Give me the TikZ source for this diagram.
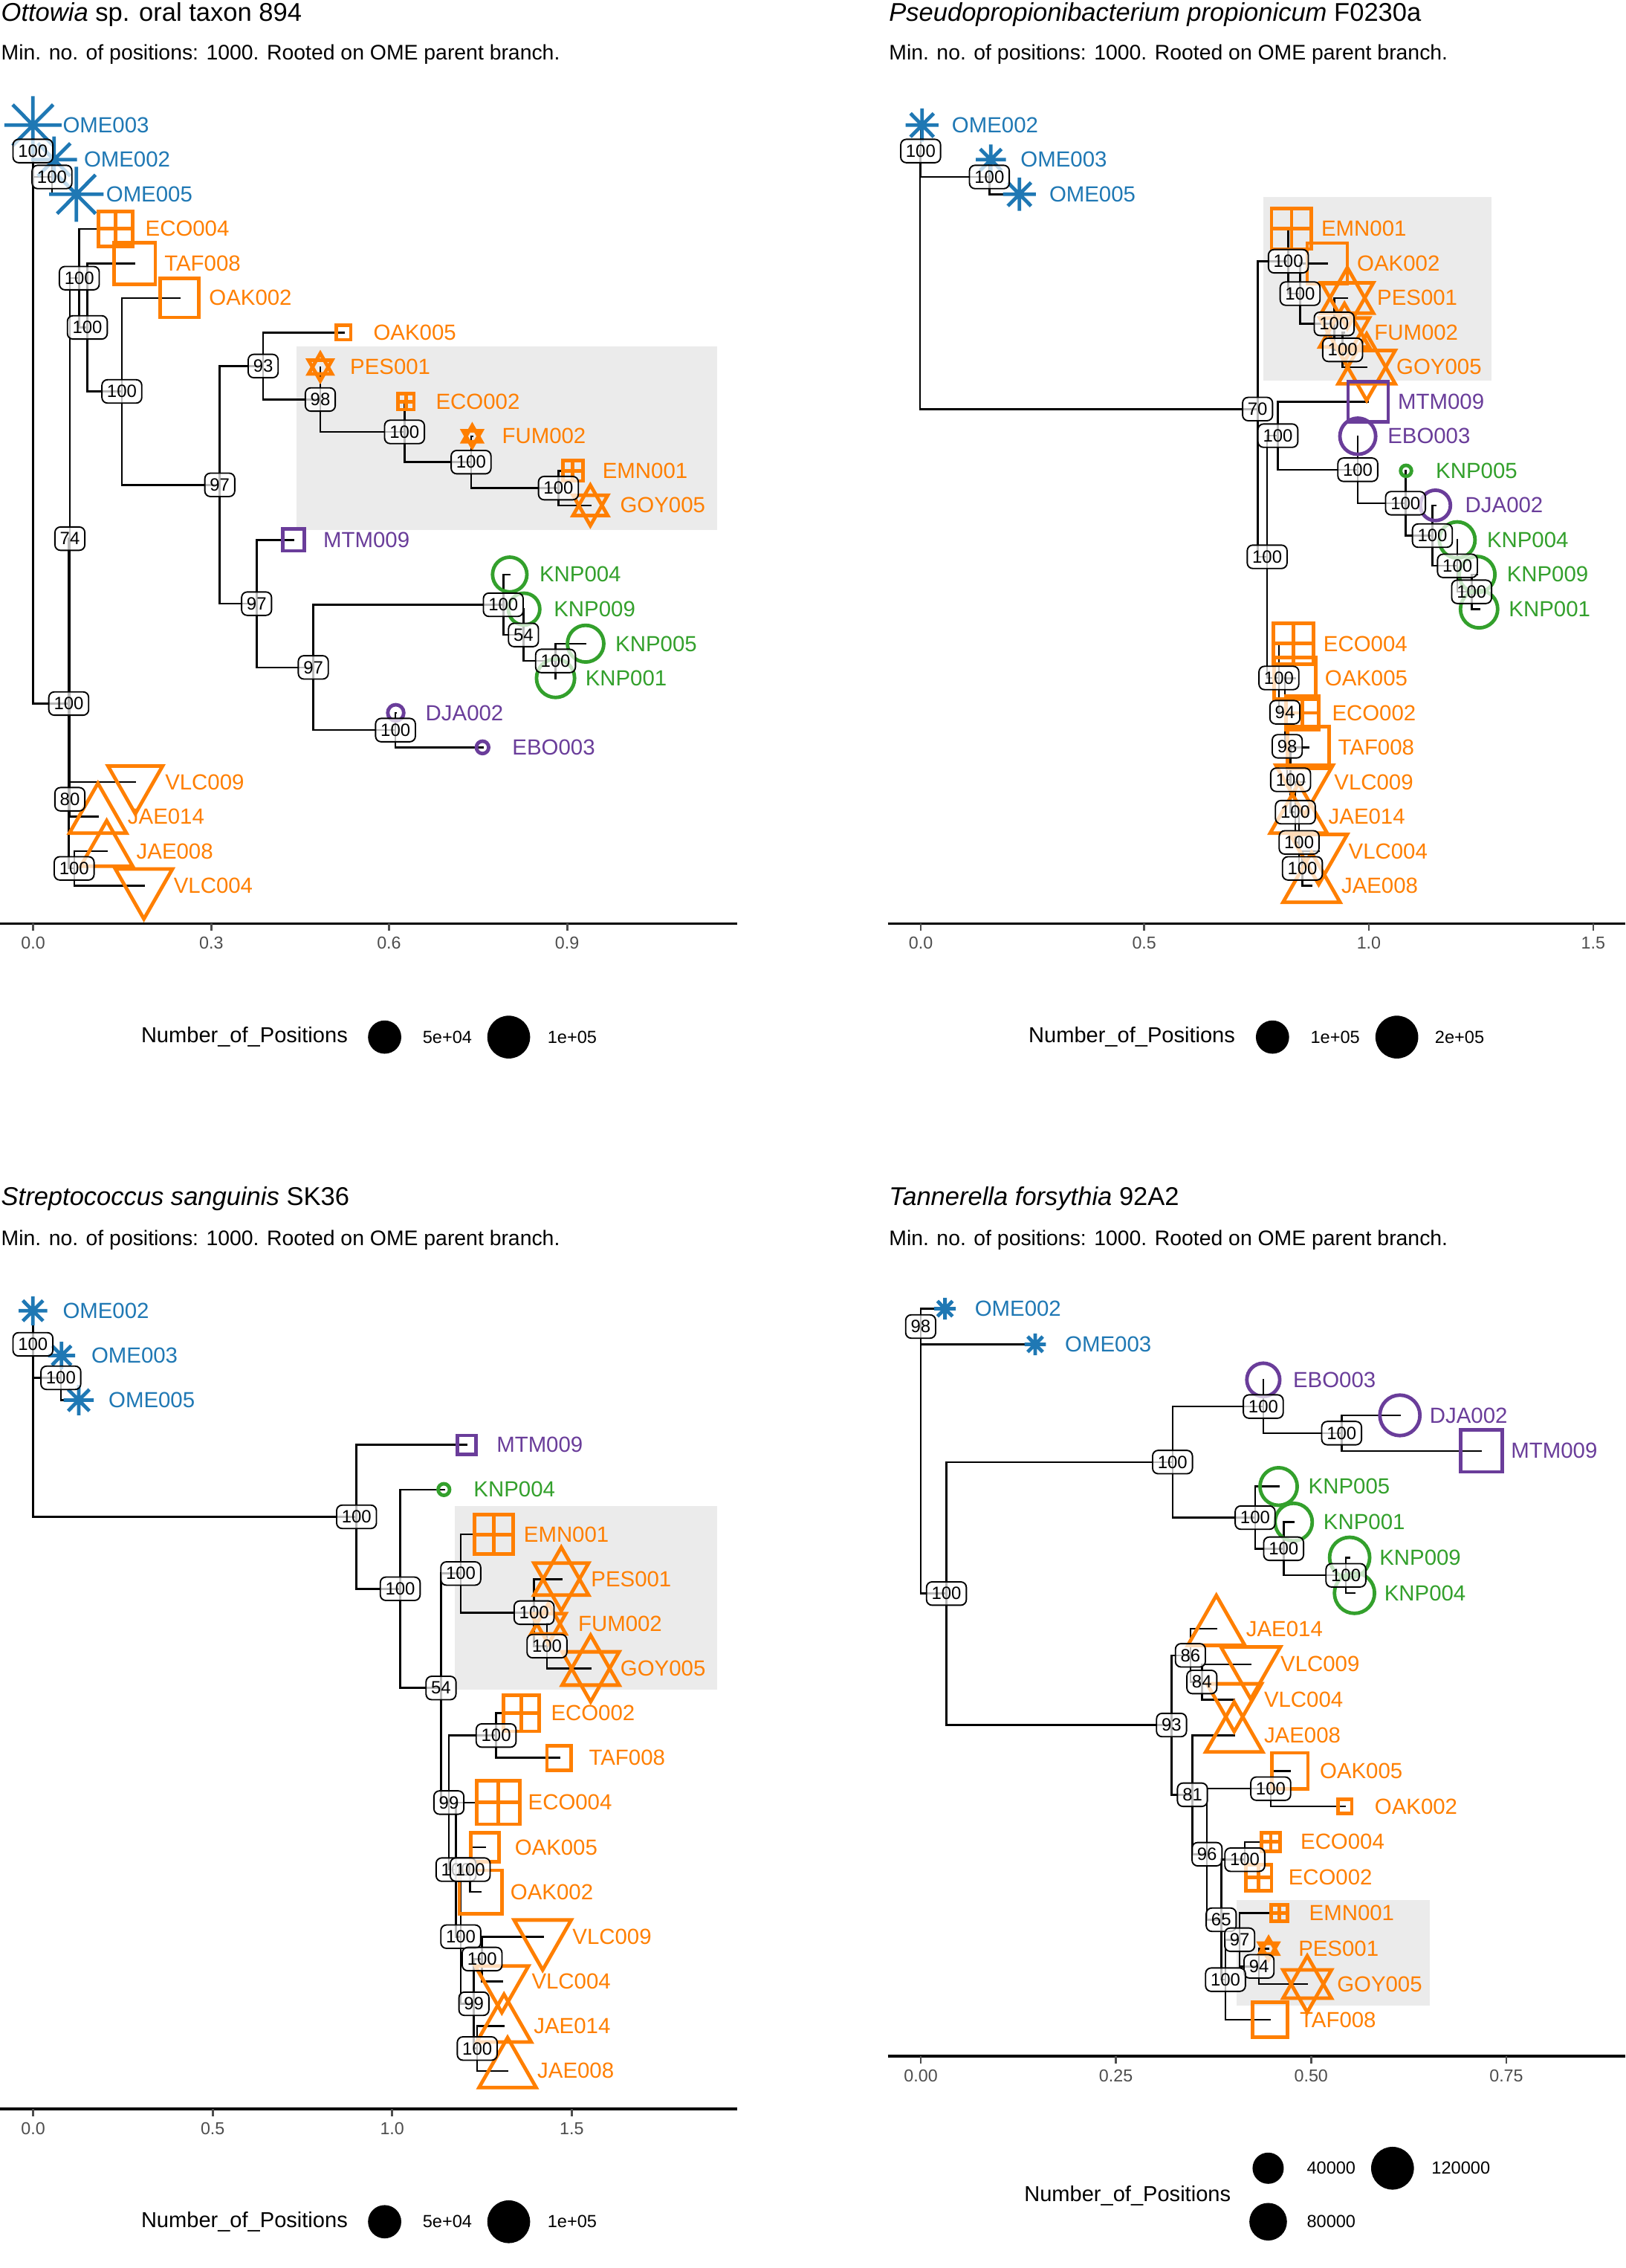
\documentclass[tikz,border=0pt]{standalone}
\usepackage{fontspec}
\setmainfont{Liberation Sans}
\definecolor{cblue}{HTML}{1F78B4}
\definecolor{corange}{HTML}{FF7F00}
\definecolor{cpurple}{HTML}{6A3D9A}
\definecolor{cgreen}{HTML}{33A02C}
\definecolor{hl}{HTML}{EBEBEB}
\definecolor{tickgray}{HTML}{4D4D4D}
\newcommand\shpsq[3]{\draw[sym,draw=#2] ([shift={(-#3,-#3)}]#1) rectangle ([shift={(#3,#3)}]#1);}
\newcommand\shpsqp[3]{\shpsq{#1}{#2}{#3}\draw[sym,draw=#2] ([shift={(-#3,0)}]#1) -- ([shift={(#3,0)}]#1) ([shift={(0,-#3)}]#1) -- ([shift={(0,#3)}]#1);}
\newcommand\shpci[3]{\draw[sym,draw=#2] (#1) circle[radius=#3];}
\newcommand\shptu[3]{\draw[sym,draw=#2] ([shift={(0,-#3)}]#1) -- ([shift={(0.866*#3,0.5*#3)}]#1) -- ([shift={(-0.866*#3,0.5*#3)}]#1) -- cycle;}
\newcommand\shptd[3]{\draw[sym,draw=#2] ([shift={(0,#3)}]#1) -- ([shift={(0.866*#3,-0.5*#3)}]#1) -- ([shift={(-0.866*#3,-0.5*#3)}]#1) -- cycle;}
\newcommand\shphx[3]{\shptu{#1}{#2}{#3}\shptd{#1}{#2}{#3}}
\newcommand\shpas[3]{\draw[sym,draw=#2] ([shift={(-#3,0)}]#1) -- ([shift={(#3,0)}]#1) ([shift={(0,-#3)}]#1) -- ([shift={(0,#3)}]#1) ([shift={(-0.707*#3,-0.707*#3)}]#1) -- ([shift={(0.707*#3,0.707*#3)}]#1) ([shift={(-0.707*#3,0.707*#3)}]#1) -- ([shift={(0.707*#3,-0.707*#3)}]#1);}
\newcommand\tip[5]{\csname shp#2\endcsname{#1}{#3}{#4}\node[tl,text=#3] (#1-t) at ([shift={(20.5,0)}]#1) {#5};}
\tikzset{
 br/.style={line width=0.75pt, line cap=rect, line join=miter, black},
 sym/.style={line width=1.4pt, line join=miter},
 tl/.style={anchor=west, inner sep=0pt, font=\fontsize{8.6}{10}\selectfont},
 bs/.style={draw=black, line width=0.55pt, rounded corners=2.2pt, fill=white, fill opacity=0.72, text opacity=1, inner xsep=2pt, inner ysep=0pt, minimum height=9.2pt, font=\fontsize{7}{8}\selectfont},
 hlt/.style={fill=hl, draw=none},
 axisl/.style={line width=1.1pt, black},
 tk/.style={line width=0.8pt, tickgray},
 tkl/.style={font=\fontsize{6.8}{8}\selectfont, text=tickgray, inner sep=0pt},
 lgt/.style={anchor=west, inner sep=0pt, font=\fontsize{8.5}{10}\selectfont},
 lgl/.style={anchor=west, inner sep=0pt, font=\fontsize{6.9}{8}\selectfont},
 ttl/.style={anchor=base west, inner sep=0pt, font=\fontsize{10.1}{12}\selectfont},
 subt/.style={anchor=base west, inner sep=0pt, font=\fontsize{8.3}{10}\selectfont},
 lft/.style={xscale=0.9903},
 rgt/.style={shift={(611.6,0)}, xscale=0.9903, shift={(-611.6,0)}},
}
\begin{document}
\begin{tikzpicture}[x=0.02cm,y=-0.02cm]
\fill[white] (0,0) rectangle (1124,1568);
\useasboundingbox (0,0) rectangle (1124,1568);
% ---------------- titles
\node[ttl] (t1) at (0.5,14.4) {\textit{Ottowia} sp. oral taxon 894};
\node[subt] (s1) at (0.5,41.3) {Min. no. of positions: 1000. Rooted on OME parent branch.};
\node[ttl] (t2) at (614.5,14.4) {\textit{Pseudopropionibacterium propionicum} F0230a};
\node[subt] (s2) at (614.5,41.3) {Min. no. of positions: 1000. Rooted on OME parent branch.};
\node[ttl] (t3) at (0.5,833.4) {\textit{Streptococcus sanguinis} SK36};
\node[subt] (s3) at (0.5,861.3) {Min. no. of positions: 1000. Rooted on OME parent branch.};
\node[ttl] (t4) at (614.5,833.4) {\textit{Tannerella forsythia} 92A2};
\node[subt] (s4) at (614.5,861.3) {Min. no. of positions: 1000. Rooted on OME parent branch.};
% ================= PANEL 1
\begin{scope}[lft]
\fill[hlt] (207,239.7) rectangle (501,366.4);
\coordinate (aR) at (23,295.4);
\coordinate (aA) at (23,104.4);
\coordinate (aB) at (36.3,122.35);
\coordinate (aC) at (48,486.4);
\coordinate (a74) at (48.8,372.4);
\coordinate (a100a) at (55.4,192.3);
\coordinate (a100b) at (61,226.35);
\coordinate (a100c) at (85.1,270.6);
\coordinate (a97a) at (153.5,335.2);
\coordinate (a93) at (183.8,253.05);
\coordinate (a98) at (223.7,276.2);
\coordinate (a100d) at (282.5,298.6);
\coordinate (a100e) at (329,319.5);
\coordinate (a100f) at (390,337.45);
\coordinate (a97b) at (179.2,417.35);
\coordinate (a97c) at (218.8,461.4);
\coordinate (a100g) at (351.5,418.1);
\coordinate (a54) at (365.6,439.0);
\coordinate (a100h) at (388,456.95);
\coordinate (a100i) at (276.2,504.75);
\coordinate (a80) at (48.8,552.55);
\coordinate (a100j) at (51.8,600.35);
\coordinate (aOME003) at (23,86.5);
\coordinate (aOME002) at (37.8,110.4);
\coordinate (aOME005) at (53.3,134.3);
\coordinate (aECO004) at (80.7,158.2);
\coordinate (aTAF008) at (94,182.1);
\coordinate (aOAK002) at (125.2,206.0);
\coordinate (aOAK005) at (240,229.9);
\coordinate (aPES001) at (223.7,253.8);
\coordinate (aECO002) at (283.6,277.7);
\coordinate (aFUM002) at (329.8,301.6);
\coordinate (aEMN001) at (400,325.5);
\coordinate (aGOY005) at (412.3,349.4);
\coordinate (aMTM009) at (205,373.3);
\coordinate (aKNP004) at (356,397.2);
\coordinate (aKNP009) at (366,421.1);
\coordinate (aKNP005) at (409,445.0);
\coordinate (aKNP001) at (388,468.9);
\coordinate (aDJA002) at (276.4,492.8);
\coordinate (aEBO003) at (337,516.7);
\coordinate (aVLC009) at (94.5,540.6);
\coordinate (aJAE014) at (68.4,564.5);
\coordinate (aJAE008) at (74.5,588.4);
\coordinate (aVLC004) at (100.5,612.3);
\foreach \p/\c in {aR/aA,aR/aC,aA/aOME003,aA/aB,aB/aOME002,aB/aOME005,aC/a74,aC/a100j,a74/a100a,a74/a80,a100a/aECO004,a100a/a100b,a100b/aTAF008,a100b/a100c,a100c/aOAK002,a100c/a97a,a97a/a93,a97a/a97b,a93/aOAK005,a93/a98,a98/aPES001,a98/a100d,a100d/aECO002,a100d/a100e,a100e/aFUM002,a100e/a100f,a100f/aEMN001,a100f/aGOY005,a97b/aMTM009,a97b/a97c,a97c/a100g,a97c/a100i,a100g/aKNP004,a100g/a54,a54/aKNP009,a54/a100h,a100h/aKNP005,a100h/aKNP001,a100i/aDJA002,a100i/aEBO003,a80/aVLC009,a80/aJAE014,a100j/aJAE008,a100j/aVLC004}
  \draw[br] (\p) |- (\c);
\tip{aOME003}{as}{cblue}{20}{OME003}
\tip{aOME002}{as}{cblue}{16}{OME002}
\tip{aOME005}{as}{cblue}{19}{OME005}
\tip{aECO004}{sqp}{corange}{12}{ECO004}
\tip{aTAF008}{sq}{corange}{14.5}{TAF008}
\tip{aOAK002}{sq}{corange}{13.5}{OAK002}
\tip{aOAK005}{sq}{corange}{5}{OAK005}
\tip{aPES001}{hx}{corange}{9.5}{PES001}
\tip{aECO002}{sqp}{corange}{5.5}{ECO002}
\tip{aFUM002}{hx}{corange}{7.5}{FUM002}
\tip{aEMN001}{sqp}{corange}{7}{EMN001}
\tip{aGOY005}{hx}{corange}{14}{GOY005}
\tip{aMTM009}{sq}{cpurple}{7.5}{MTM009}
\tip{aKNP004}{ci}{cgreen}{12}{KNP004}
\tip{aKNP009}{ci}{cgreen}{11}{KNP009}
\tip{aKNP005}{ci}{cgreen}{12.7}{KNP005}
\tip{aKNP001}{ci}{cgreen}{13.3}{KNP001}
\tip{aDJA002}{ci}{cpurple}{5.6}{DJA002}
\tip{aEBO003}{ci}{cpurple}{4.3}{EBO003}
\tip{aVLC009}{td}{corange}{22}{VLC009}
\tip{aJAE014}{tu}{corange}{23}{JAE014}
\tip{aJAE008}{tu}{corange}{21}{JAE008}
\tip{aVLC004}{td}{corange}{23}{VLC004}
\foreach \n/\v in {aA/100,aB/100,a100a/100,a100b/100,a100c/100,a97a/97,a93/93,a98/98,a100d/100,a100e/100,a100f/100,a97b/97,a97c/97,a100g/100,a54/54,a100h/100,a100i/100,a74/74,aC/100,a80/80,a100j/100}
  \node[bs] (\n-b) at (\n) {\v};
\end{scope}
% ================= PANEL 2
\begin{scope}[rgt]
\fill[hlt] (876,136.4) rectangle (1035.6,263.3);
\coordinate (bR) at (636.5,193.6);
\coordinate (bA) at (637,104.4);
\coordinate (bB) at (685,122.35);
\coordinate (b70) at (872.3,282.8);
\coordinate (bU1) at (893.8,180.6);
\coordinate (bU2) at (902,203.0);
\coordinate (bU3) at (925.8,223.9);
\coordinate (bU4) at (931.7,241.85);
\coordinate (bN) at (879,384.95);
\coordinate (bM) at (886.5,301.2);
\coordinate (bE) at (942.3,324.75);
\coordinate (bK1) at (975.6,347.9);
\coordinate (bK2) at (994.4,370.3);
\coordinate (bK3) at (1011.9,391.2);
\coordinate (bK4) at (1021.8,409.15);
\coordinate (bL0) at (887.2,468.7);
\coordinate (bL1) at (891.4,492.4);
\coordinate (bL2) at (893,515.95);
\coordinate (bL3) at (895.4,539.1);
\coordinate (bL4) at (898.7,561.5);
\coordinate (bL5) at (901.3,582.4);
\coordinate (bL6) at (903.6,600.35);
\coordinate (bOME002) at (638,86.5);
\coordinate (bOME003) at (686,110.4);
\coordinate (bOME005) at (706,134.3);
\coordinate (bEMN001) at (896,158.2);
\coordinate (bOAK002) at (921,182.1);
\coordinate (bPES001) at (935,206.0);
\coordinate (bFUM002) at (933,229.9);
\coordinate (bGOY005) at (948.5,253.8);
\coordinate (bMTM009) at (949.5,277.7);
\coordinate (bEBO003) at (942.3,301.6);
\coordinate (bKNP005) at (976,325.5);
\coordinate (bDJA002) at (996.5,349.4);
\coordinate (bKNP004) at (1011.7,373.3);
\coordinate (bKNP009) at (1025.6,397.2);
\coordinate (bKNP001) at (1027,421.1);
\coordinate (bECO004) at (897.5,445.0);
\coordinate (bOAK005) at (898.5,468.9);
\coordinate (bECO002) at (903.5,492.8);
\coordinate (bTAF008) at (907.7,516.7);
\coordinate (bVLC009) at (905,540.6);
\coordinate (bJAE014) at (901,564.5);
\coordinate (bVLC004) at (915,588.4);
\coordinate (bJAE008) at (910,612.3);
\foreach \p/\c in {bR/bA,bR/b70,bA/bOME002,bA/bB,bB/bOME003,bB/bOME005,b70/bU1,b70/bN,bU1/bEMN001,bU1/bU2,bU2/bOAK002,bU2/bU3,bU3/bPES001,bU3/bU4,bU4/bFUM002,bU4/bGOY005,bN/bM,bN/bL0,bM/bMTM009,bM/bE,bE/bEBO003,bE/bK1,bK1/bKNP005,bK1/bK2,bK2/bDJA002,bK2/bK3,bK3/bKNP004,bK3/bK4,bK4/bKNP009,bK4/bKNP001,bL0/bECO004,bL0/bL1,bL1/bOAK005,bL1/bL2,bL2/bECO002,bL2/bL3,bL3/bTAF008,bL3/bL4,bL4/bVLC009,bL4/bL5,bL5/bJAE014,bL5/bL6,bL6/bVLC004,bL6/bJAE008}
  \draw[br] (\p) |- (\c);
\tip{bOME002}{as}{cblue}{11.5}{OME002}
\tip{bOME003}{as}{cblue}{10.5}{OME003}
\tip{bOME005}{as}{cblue}{11.5}{OME005}
\tip{bEMN001}{sqp}{corange}{14}{EMN001}
\tip{bOAK002}{sq}{corange}{14}{OAK002}
\tip{bPES001}{hx}{corange}{21}{PES001}
\tip{bFUM002}{hx}{corange}{20}{FUM002}
\tip{bGOY005}{hx}{corange}{23}{GOY005}
\tip{bMTM009}{sq}{cpurple}{14}{MTM009}
\tip{bEBO003}{ci}{cpurple}{12.5}{EBO003}
\tip{bKNP005}{ci}{cgreen}{3.8}{KNP005}
\tip{bDJA002}{ci}{cpurple}{10.5}{DJA002}
\tip{bKNP004}{ci}{cgreen}{12.5}{KNP004}
\tip{bKNP009}{ci}{cgreen}{12.5}{KNP009}
\tip{bKNP001}{ci}{cgreen}{13}{KNP001}
\tip{bECO004}{sqp}{corange}{14}{ECO004}
\tip{bOAK005}{sq}{corange}{14.5}{OAK005}
\tip{bECO002}{sqp}{corange}{11.5}{ECO002}
\tip{bTAF008}{sq}{corange}{14.5}{TAF008}
\tip{bVLC009}{td}{corange}{23}{VLC009}
\tip{bJAE014}{tu}{corange}{23}{JAE014}
\tip{bVLC004}{td}{corange}{23}{VLC004}
\tip{bJAE008}{tu}{corange}{23}{JAE008}
\foreach \n/\v in {bA/100,bB/100,b70/70,bU1/100,bU2/100,bU3/100,bU4/100,bN/100,bM/100,bE/100,bK1/100,bK2/100,bK3/100,bK4/100,bL0/100,bL1/94,bL2/98,bL3/100,bL4/100,bL5/100,bL6/100}
  \node[bs] (\n-b) at (\n) {\v};
\end{scope}
% ================= PANEL 3
\begin{scope}[lft]
\fill[hlt] (317.5,1041) rectangle (501,1168);
\coordinate (cR) at (23,989.0);
\coordinate (cA) at (23,929.4);
\coordinate (cB) at (42.5,952.55);
\coordinate (cM) at (249,1048.65);
\coordinate (cK) at (279.5,1098.4);
\coordinate (c54) at (308,1167.0);
\coordinate (cE) at (321.8,1087.85);
\coordinate (cG1) at (373,1114.9);
\coordinate (cG2) at (382,1138.05);
\coordinate (c99) at (313.5,1246.2);
\coordinate (cT) at (346.5,1199.85);
\coordinate (c1) at (318.5,1292.55);
\coordinate (c100c) at (321.8,1338.9);
\coordinate (cO) at (328.4,1292.55);
\coordinate (c99b) at (331,1385.3);
\coordinate (cV) at (336.7,1354.4);
\coordinate (cJ) at (333.3,1416.25);
\coordinate (cOME002) at (23,906.2);
\coordinate (cOME003) at (43,937.1);
\coordinate (cOME005) at (55,968.0);
\coordinate (cMTM009) at (326,998.9);
\coordinate (cKNP004) at (310,1029.8);
\coordinate (cEMN001) at (345,1060.8);
\coordinate (cPES001) at (392,1091.7);
\coordinate (cFUM002) at (383,1122.6);
\coordinate (cGOY005) at (412.5,1153.5);
\coordinate (cECO002) at (364,1184.4);
\coordinate (cTAF008) at (390.5,1215.3);
\coordinate (cECO004) at (348,1246.2);
\coordinate (cOAK005) at (338.7,1277.1);
\coordinate (cOAK002) at (335.7,1308.0);
\coordinate (cVLC009) at (379,1338.9);
\coordinate (cVLC004) at (350.5,1369.9);
\coordinate (cJAE014) at (352,1400.8);
\coordinate (cJAE008) at (354.5,1431.7);
\foreach \p/\c in {cR/cA,cR/cM,cA/cOME002,cA/cB,cB/cOME003,cB/cOME005,cM/cMTM009,cM/cK,cK/cKNP004,cK/c54,c54/cE,c54/c99,cE/cEMN001,cE/cG1,cG1/cPES001,cG1/cG2,cG2/cFUM002,cG2/cGOY005,c99/cT,c99/c1,cT/cECO002,cT/cTAF008,c1/cECO004,c1/c100c,c100c/cO,c100c/c99b,cO/cOAK005,cO/cOAK002,c99b/cV,c99b/cJ,cV/cVLC009,cV/cVLC004,cJ/cJAE014,cJ/cJAE008}
  \draw[br] (\p) |- (\c);
\tip{cOME002}{as}{cblue}{10}{OME002}
\tip{cOME003}{as}{cblue}{9.5}{OME003}
\tip{cOME005}{as}{cblue}{10.5}{OME005}
\tip{cMTM009}{sq}{cpurple}{6.5}{MTM009}
\tip{cKNP004}{ci}{cgreen}{4}{KNP004}
\tip{cEMN001}{sqp}{corange}{13.5}{EMN001}
\tip{cPES001}{hx}{corange}{22}{PES001}
\tip{cFUM002}{hx}{corange}{14}{FUM002}
\tip{cGOY005}{hx}{corange}{23}{GOY005}
\tip{cECO002}{sqp}{corange}{12.5}{ECO002}
\tip{cTAF008}{sq}{corange}{8.5}{TAF008}
\tip{cECO004}{sqp}{corange}{15}{ECO004}
\tip{cOAK005}{sq}{corange}{10}{OAK005}
\tip{cOAK002}{sq}{corange}{15}{OAK002}
\tip{cVLC009}{td}{corange}{23}{VLC009}
\tip{cVLC004}{td}{corange}{21.5}{VLC004}
\tip{cJAE014}{tu}{corange}{22}{JAE014}
\tip{cJAE008}{tu}{corange}{23}{JAE008}
\foreach \n/\v in {cA/100,cB/100,cM/100,cK/100,c54/54,cE/100,cG1/100,cG2/100,cT/100,c99/99,c1/100,cO/100,c100c/100,cV/100,c99b/99,cJ/100}
  \node[bs] (\n-b) at (\n) {\v};
\end{scope}
% ================= PANEL 4
\begin{scope}[rgt]
\fill[hlt] (857.5,1313.6) rectangle (992.5,1386.4);
\coordinate (dR) at (637,1009.4);
\coordinate (d98) at (637,917.1);
\coordinate (dL) at (655,1101.7);
\coordinate (dU) at (812.9,1010.8);
\coordinate (dE) at (876.3,972.4);
\coordinate (dDM) at (931,990.8);
\coordinate (dK1) at (870.6,1049.2);
\coordinate (dK2) at (890.5,1070.7);
\coordinate (dK3) at (934,1089.1);
\coordinate (d93) at (812.2,1192.6);
\coordinate (d86) at (825.4,1144.4);
\coordinate (d84) at (833.4,1162.85);
\coordinate (d81) at (826.8,1240.8);
\coordinate (d96) at (837,1281.9);
\coordinate (dO) at (881.5,1236.6);
\coordinate (d65) at (846.9,1327.2);
\coordinate (dEC) at (863.4,1285.7);
\coordinate (d100) at (849.9,1368.65);
\coordinate (d97) at (859.8,1341.0);
\coordinate (d94) at (873.3,1359.45);
\coordinate (dOME002) at (654,904.8);
\coordinate (dOME003) at (717,929.4);
\coordinate (dEBO003) at (876.3,953.95);
\coordinate (dDJA002) at (971.7,978.5);
\coordinate (dMTM009) at (1028.5,1003.1);
\coordinate (dKNP005) at (887,1027.7);
\coordinate (dKNP001) at (897.5,1052.3);
\coordinate (dKNP009) at (936.6,1076.8);
\coordinate (dKNP004) at (940,1101.4);
\coordinate (dJAE014) at (843.5,1126.0);
\coordinate (dVLC009) at (867.5,1150.6);
\coordinate (dVLC004) at (856,1175.1);
\coordinate (dJAE008) at (856,1199.7);
\coordinate (dOAK005) at (895,1224.3);
\coordinate (dOAK002) at (933.3,1248.9);
\coordinate (dECO004) at (881.5,1273.4);
\coordinate (dECO002) at (873,1298.0);
\coordinate (dEMN001) at (887.5,1322.6);
\coordinate (dPES001) at (880,1347.2);
\coordinate (dGOY005) at (907,1371.7);
\coordinate (dTAF008) at (881,1396.3);
\foreach \p/\c in {dR/d98,dR/dL,d98/dOME002,d98/dOME003,dL/dU,dL/d93,dU/dE,dU/dK1,dE/dEBO003,dE/dDM,dDM/dDJA002,dDM/dMTM009,dK1/dKNP005,dK1/dK2,dK2/dKNP001,dK2/dK3,dK3/dKNP009,dK3/dKNP004,d93/d86,d93/d81,d86/dJAE014,d86/d84,d84/dVLC009,d84/dVLC004,d81/dJAE008,d81/d96,d96/dO,d96/d65,dO/dOAK005,dO/dOAK002,d65/dEC,d65/d100,dEC/dECO004,dEC/dECO002,d100/d97,d100/dTAF008,d97/dEMN001,d97/d94,d94/dPES001,d94/dGOY005}
  \draw[br] (\p) |- (\c);
\tip{dOME002}{as}{cblue}{7.5}{OME002}
\tip{dOME003}{as}{cblue}{7.5}{OME003}
\tip{dEBO003}{ci}{cpurple}{11.5}{EBO003}
\tip{dDJA002}{ci}{cpurple}{14}{DJA002}
\tip{dMTM009}{sq}{cpurple}{14.5}{MTM009}
\tip{dKNP005}{ci}{cgreen}{13}{KNP005}
\tip{dKNP001}{ci}{cgreen}{13}{KNP001}
\tip{dKNP009}{ci}{cgreen}{14}{KNP009}
\tip{dKNP004}{ci}{cgreen}{14}{KNP004}
\tip{dJAE014}{tu}{corange}{23}{JAE014}
\tip{dVLC009}{td}{corange}{24}{VLC009}
\tip{dVLC004}{td}{corange}{22}{VLC004}
\tip{dJAE008}{tu}{corange}{23}{JAE008}
\tip{dOAK005}{sq}{corange}{12.5}{OAK005}
\tip{dOAK002}{sq}{corange}{4.8}{OAK002}
\tip{dECO004}{sqp}{corange}{6.5}{ECO004}
\tip{dECO002}{sqp}{corange}{9}{ECO002}
\tip{dEMN001}{sqp}{corange}{5.8}{EMN001}
\tip{dPES001}{hx}{corange}{7.5}{PES001}
\tip{dGOY005}{hx}{corange}{19.5}{GOY005}
\tip{dTAF008}{sq}{corange}{12}{TAF008}
\foreach \n/\v in {d98/98,dE/100,dDM/100,dU/100,dK1/100,dK2/100,dK3/100,dL/100,d86/86,d84/84,d93/93,dO/100,d81/81,d96/96,dEC/100,d65/65,d97/97,d94/94,d100/100}
  \node[bs] (\n-b) at (\n) {\v};
\end{scope}
% ================= AXES
\draw[axisl] (0,638.5) -- (510,638.5);
\foreach \x/\l in {22.9/0.0,146.1/0.3,269/0.6,392.2/0.9}{
  \draw[tk] (\x,638.5) -- (\x,643.5);
  \node[tkl] at (\x,652) {\l};}
\draw[axisl] (614,638.5) -- (1124,638.5);
\foreach \x/\l in {636.8/0.0,791.3/0.5,946.6/1.0,1101.8/1.5}{
  \draw[tk] (\x,638.5) -- (\x,643.5);
  \node[tkl] at (\x,652) {\l};}
\draw[axisl] (0,1458) -- (510,1458);
\foreach \x/\l in {22.9/0.0,147.1/0.5,271.2/1.0,395.4/1.5}{
  \draw[tk] (\x,1458) -- (\x,1463);
  \node[tkl] at (\x,1471.5) {\l};}
\draw[axisl] (614,1421.4) -- (1124,1421.4);
\foreach \x/\l in {636.8/0.00,771.7/0.25,906.7/0.50,1041.7/0.75}{
  \draw[tk] (\x,1421.4) -- (\x,1426.4);
  \node[tkl] at (\x,1435) {\l};}
% ================= LEGENDS
\node[lgt] (lg1) at (97.3,717) {Number\_of\_Positions};
\fill (266,717) circle[radius=11.5];
\node[lgl] (lg1a) at (292,717) {5e+04};
\fill (351.8,717) circle[radius=14.8];
\node[lgl] (lg1b) at (378.3,717) {1e+05};
\node[lgt] (lg2) at (711,717) {Number\_of\_Positions};
\fill (880,717) circle[radius=11.5];
\node[lgl] (lg2a) at (906,717) {1e+05};
\fill (966,717) circle[radius=14.8];
\node[lgl] (lg2b) at (992,717) {2e+05};
\node[lgt] (lg3) at (97.3,1536) {Number\_of\_Positions};
\fill (266,1536) circle[radius=11.5];
\node[lgl] (lg3a) at (292,1536) {5e+04};
\fill (351.8,1536) circle[radius=14.8];
\node[lgl] (lg3b) at (378.3,1536) {1e+05};
\node[lgt] (lg4) at (708,1518) {Number\_of\_Positions};
\fill (877,1499) circle[radius=10.8];
\node[lgl] (lg4a) at (903.4,1499) {40000};
\fill (963,1499) circle[radius=14.8];
\node[lgl] (lg4b) at (989.7,1499) {120000};
\fill (877,1536) circle[radius=13];
\node[lgl] (lg4c) at (903.4,1536) {80000};
\end{tikzpicture}
\end{document}
